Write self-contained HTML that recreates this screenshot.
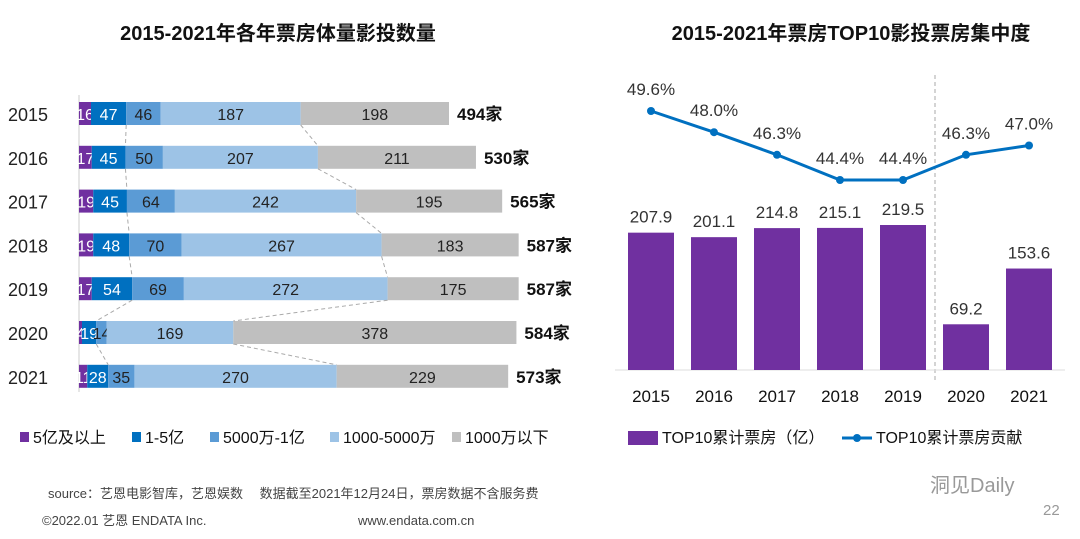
<!DOCTYPE html>
<html><head><meta charset="utf-8"><style>
body{margin:0;width:1080px;height:534px;background:#fff;overflow:hidden}
svg text{font-family:"Liberation Sans","Noto Sans CJK SC",sans-serif}
</style></head><body>
<svg id="s" width="1080" height="534" xmlns="http://www.w3.org/2000/svg">
<text x="278" y="40" text-anchor="middle" font-size="20" font-weight="bold" fill="#111">2015-2021年各年票房体量影投数量</text>
<text x="851" y="40" text-anchor="middle" font-size="20" font-weight="bold" fill="#111">2015-2021年票房TOP10影投票房集中度</text>
<g id="L"></g><g id="R"></g>
<text x="48" y="498" font-size="13" fill="#444">source：艺恩电影智库，艺恩娱数　 数据截至2021年12月24日，票房数据不含服务费</text>
<text x="42" y="525" font-size="13" fill="#444">©2022.01 艺恩 ENDATA Inc.</text>
<text x="358" y="525" font-size="13" fill="#444">www.endata.com.cn</text>
<text x="930" y="492" font-size="20" fill="#999">洞见Daily</text>
<text x="1043" y="515" font-size="15" fill="#999">22</text>
</svg>
<script>
const NS="http://www.w3.org/2000/svg";
const years=["2015","2016","2017","2018","2019","2020","2021"];
const seg5yi=[16,17,19,19,17,4,11];
const seg1to5=[47,45,45,48,54,19,28];
const seg5000=[46,50,64,70,69,14,35];
const seg1000=[187,207,242,267,272,169,270];
const segBelow=[198,211,195,183,175,378,229];
const totals=[494,530,565,587,587,584,573];
const segLabels=["5亿及以上","1-5亿","5000万-1亿","1000-5000万","1000万以下"];
const top10Box=[207.9,201.1,214.8,215.1,219.5,69.2,153.6];
const top10Share=[49.6,48.0,46.3,44.4,44.4,46.3,47.0];
function el(t,a,p){const e=document.createElementNS(NS,t);for(const k in a)e.setAttribute(k,a[k]);p.appendChild(e);return e;}
const L=document.getElementById('L'),R=document.getElementById('R');
const colors=["#7030a0","#0070c0","#5b9bd5","#9dc3e6","#bfbfbf"];
const txtCol=["#fff","#fff","#222","#222","#222"];
const x0=79,kx=370/494;
const xs=v=>x0+v*kx;
const yb=i=>102+i*43.8;
const series=[seg5yi,seg1to5,seg5000,seg1000,segBelow];
el('line',{x1:x0,y1:95,x2:x0,y2:392,stroke:'#ccc'},L);
const bounds=[];
years.forEach((y,i)=>{
  const t=el('text',{x:8,y:yb(i)+19,'font-size':18,fill:'#222'},L);t.textContent=y;
  
  
  let c=0;const b=[];
  series.forEach((s,j)=>{
    const r=el('rect',{x:xs(c),y:yb(i),width:s[i]*kx,height:23,fill:colors[j]},L);
    
    
    const tx=el('text',{x:xs(c+s[i]/2),y:yb(i)+18,'font-size':16,fill:txtCol[j],'text-anchor':'middle'},L);
    tx.textContent=s[i];
    
    
    c+=s[i];b.push(c);
  });
  bounds.push(b);
  const tt=el('text',{x:xs(c)+8,y:yb(i)+18,'font-size':17,'font-weight':'bold',fill:'#111'},L);
  tt.textContent=totals[i]+'家';
  
  
});
for(let i=0;i<years.length-1;i++){
  [1,3].forEach(j=>{
    const ln=el('line',{x1:xs(bounds[i][j]),y1:yb(i)+23,x2:xs(bounds[i+1][j]),y2:yb(i+1),stroke:'#aaa','stroke-dasharray':'4,3'},L);
    
    
  });
}
let lx=20;
const lw=[112,78,120,122,110];
segLabels.forEach((s,j)=>{
  const r=el('rect',{x:lx,y:432,width:9,height:10,fill:colors[j]},L);
  
  
  const t=el('text',{x:lx+13,y:443,'font-size':16,fill:'#111'},L);t.textContent=s;
  
  
  lx+=lw[j];
});
// right chart
const cx=i=>651+i*63,base=370,ky=145/219.5;
const ly=v=>111+(49.6-v)*13.27;
el('line',{x1:935,y1:75,x2:935,y2:382,stroke:'#aaa','stroke-dasharray':'4,3'},R);
el('line',{x1:615,y1:370,x2:1065,y2:370,stroke:'#ddd'},R);
top10Box.forEach((v,i)=>{
  const r=el('rect',{x:cx(i)-23,y:base-v*ky,width:46,height:v*ky,fill:'#7030a0'},R);
  
  
  const t=el('text',{x:cx(i),y:base-v*ky-10,'font-size':17,fill:'#333','text-anchor':'middle'},R);t.textContent=v.toFixed(1);
  
  
  const a=el('text',{x:cx(i),y:402,'font-size':17,fill:'#111','text-anchor':'middle'},R);a.textContent=years[i];
  
  
});
const pl=el('polyline',{points:top10Share.map((v,i)=>cx(i)+','+ly(v)).join(' '),fill:'none',stroke:'#0070c0','stroke-width':3},R);


top10Share.forEach((v,i)=>{
  const c=el('circle',{cx:cx(i),cy:ly(v),r:4,fill:'#0070c0'},R);
  
  
  const t=el('text',{x:cx(i),y:ly(v)-16,'font-size':17,fill:'#333','text-anchor':'middle'},R);t.textContent=v.toFixed(1)+'%';
  
  
});
const lr=el('rect',{x:628,y:431,width:30,height:14,fill:'#7030a0'},R);


const lt=el('text',{x:662,y:443,'font-size':16,fill:'#111'},R);lt.textContent='TOP10累计票房（亿）';


const ll=el('line',{x1:842,y1:438,x2:872,y2:438,stroke:'#0070c0','stroke-width':3},R);


const lc=el('circle',{cx:857,cy:438,r:4,fill:'#0070c0'},R);


const lt2=el('text',{x:876,y:443,'font-size':16,fill:'#111'},R);lt2.textContent='TOP10累计票房贡献';


</script>
</body></html>
